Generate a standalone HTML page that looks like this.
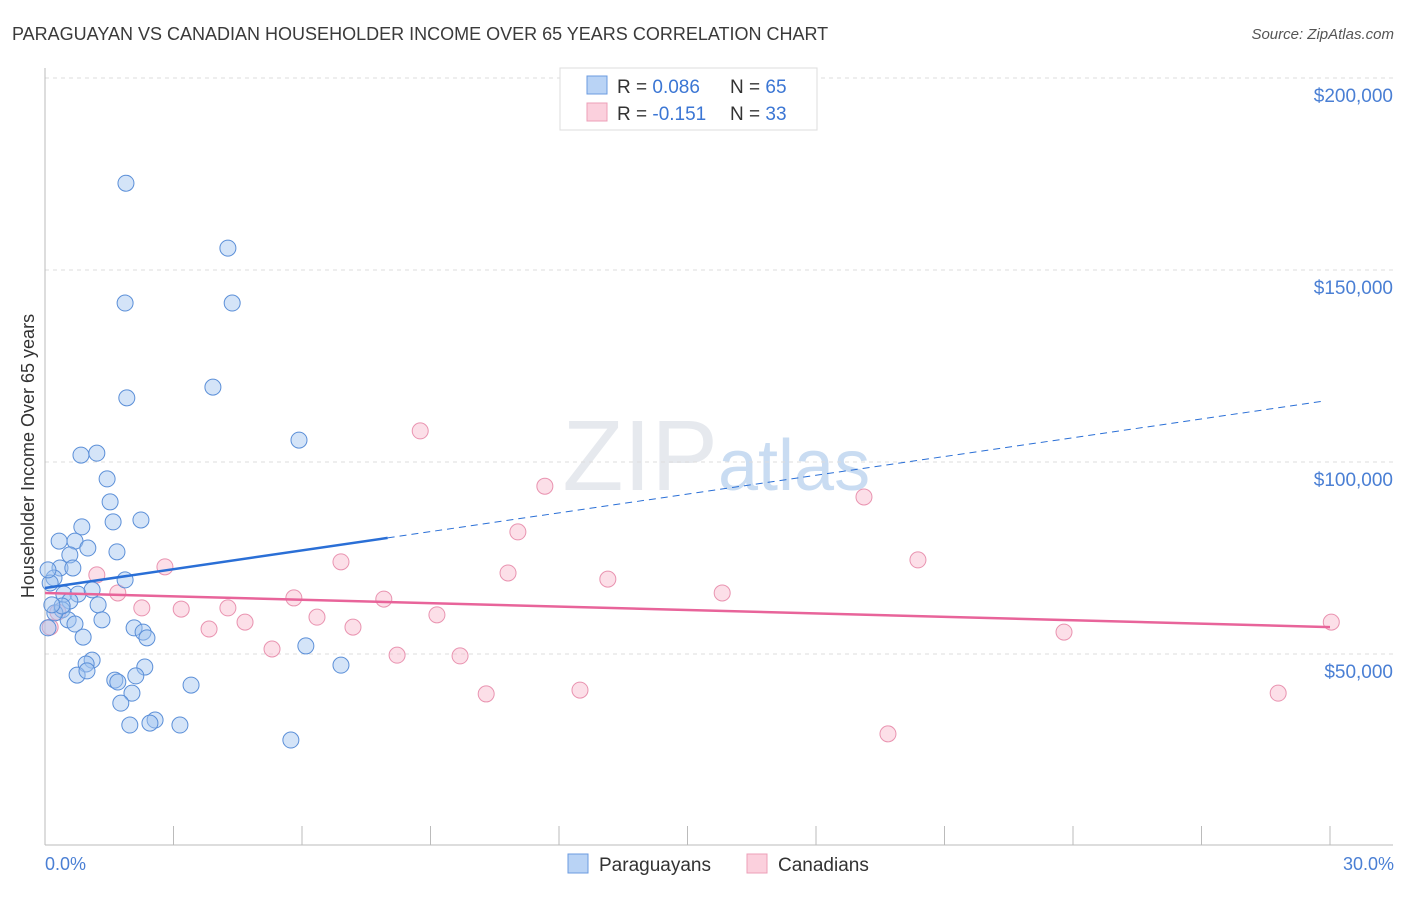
<!DOCTYPE html>
<html><head><meta charset="utf-8"><style>
body{margin:0;background:#fff;font-family:"Liberation Sans",sans-serif}
svg text{font-family:"Liberation Sans",sans-serif}
</style></head><body>
<svg id="chart" width="1406" height="892">
<text x="12" y="40" font-size="18" fill="#3a3a3a">PARAGUAYAN VS CANADIAN HOUSEHOLDER INCOME OVER 65 YEARS CORRELATION CHART</text>
<text x="1394" y="39" font-size="15" fill="#555" font-style="italic" text-anchor="end">Source: ZipAtlas.com</text>
<text x="718" y="490" font-size="100" fill="#e6e9ee" text-anchor="end" font-family="Liberation Serif">ZIP</text>
<text x="718" y="490" font-size="72" fill="#c9dcf2">atlas</text>
<g id="grid"></g>
<g id="axes"></g>
<g id="marks"></g>
<text transform="translate(34,456) rotate(-90)" font-size="18" fill="#333" text-anchor="middle">Householder Income Over 65 years</text>
<text x="45" y="870" font-size="18" fill="#4a7fd4">0.0%</text>
<text x="1394" y="870" font-size="18" fill="#4a7fd4" text-anchor="end">30.0%</text>
<g>
<rect x="560" y="68" width="257" height="62" fill="#fff" stroke="#ddd"/>
<rect x="587" y="76" width="20" height="18" fill="#b9d3f5" stroke="#6b9be0"/>
<rect x="587" y="103" width="20" height="18" fill="#fbd0dd" stroke="#ec9fb8"/>
<text x="617" y="93" font-size="19" fill="#333">R = <tspan fill="#3b76d4">0.086</tspan></text>
<text x="730" y="93" font-size="19" fill="#333">N = <tspan fill="#3b76d4">65</tspan></text>
<text x="617" y="120" font-size="19" fill="#333">R = <tspan fill="#3b76d4">-0.151</tspan></text>
<text x="730" y="120" font-size="19" fill="#333">N = <tspan fill="#3b76d4">33</tspan></text>
</g>
<g>
<rect x="568" y="854" width="20" height="19" fill="#b9d3f5" stroke="#6b9be0"/>
<text x="599" y="871" font-size="19" fill="#333">Paraguayans</text>
<rect x="747" y="854" width="20" height="19" fill="#fbd0dd" stroke="#ec9fb8"/>
<text x="778" y="871" font-size="19" fill="#333">Canadians</text>
</g>
</svg>
<script>
const yTicks=[50000,100000,150000,200000];
const yTickLabels=["$50,000","$100,000","$150,000","$200,000"];
const xTicks=[0,3,6,9,12,15,18,21,24,27,30];
const blueX=[1.89,4.27,1.87,4.37,3.92,1.91,5.93,0.84,1.21,1.45,1.52,1.59,2.24,0.86,0.33,0.70,1.00,1.68,0.58,1.87,0.35,0.65,0.21,0.12,0.44,0.77,1.10,0.58,1.24,0.40,0.54,1.33,0.70,0.07,0.89,2.08,2.29,2.38,6.09,1.10,0.96,6.91,2.33,0.75,0.98,1.63,1.70,2.12,3.41,2.03,1.77,1.98,2.57,2.45,3.15,5.74,0.23,0.40,0.07,0.16];
const blueY=[172.6,155.7,141.4,141.4,119.5,116.7,105.7,101.8,102.3,95.6,89.6,84.4,84.9,83.1,79.4,79.4,77.6,76.6,75.8,69.3,72.4,72.4,69.8,68.5,65.6,65.6,66.7,63.8,62.8,61.5,58.9,58.9,57.8,56.8,54.4,56.8,55.7,54.2,52.1,48.4,47.4,47.1,46.6,44.5,45.6,43.2,42.7,44.3,41.9,39.8,37.2,31.5,32.8,32.0,31.5,27.6,60.7,62.5,71.9,62.8];
const pinkX=[8.76,11.67,11.04,19.12,20.38,2.80,1.21,1.70,6.91,10.81,13.14,15.81,2.26,3.18,4.27,5.81,7.91,6.35,9.15,7.19,3.83,4.67,5.30,8.22,9.69,10.30,12.49,19.68,23.79,30.03,28.79,0.12,0.30];
const pinkY=[108.1,93.7,81.8,90.9,74.5,72.7,70.6,65.9,74.0,71.1,69.5,65.9,62.0,61.7,62.0,64.6,64.3,59.6,60.2,57.0,56.5,58.3,51.3,49.7,49.5,39.6,40.6,29.2,55.7,58.3,39.8,57.0,60.9];
const blueTrend=[67.2,116.1];
const pinkTrend=[65.9,57.0];
const blueSolidEnd=8;
const NS="http://www.w3.org/2000/svg";
function sx(p){return 45+p*(1330-45)/30;}
function sy(v){return 846-v/50000*192;}
function mk(t,a,parent){const e=document.createElementNS(NS,t);for(const k in a)e.setAttribute(k,a[k]);parent.appendChild(e);return e;}
const grid=document.getElementById('grid'),axes=document.getElementById('axes'),marks=document.getElementById('marks');
yTicks.forEach((v,i)=>{
 const l=mk('line',{x1:45,x2:1393,y1:sy(v),y2:sy(v),stroke:'#ddd','stroke-dasharray':'4,4'},grid);
 
 
 const t=mk('text',{x:1393,y:sy(v)+24,'font-size':19,fill:'#4a7fd4','text-anchor':'end'},grid);
 t.textContent=yTickLabels[i];
 
 
});
const ax=mk('line',{x1:45,x2:1393,y1:845,y2:845,stroke:'#bbb'},axes);


const ay=mk('line',{x1:45,x2:45,y1:68,y2:845,stroke:'#bbb'},axes);


xTicks.forEach(p=>{
 const t=mk('line',{x1:sx(p),x2:sx(p),y1:826,y2:845,stroke:'#bbb'},axes);
 
 
});
pinkX.forEach((x,i)=>{
 const c=mk('circle',{cx:sx(x),cy:sy(pinkY[i]*1000),r:8,fill:'rgba(248,184,204,0.45)',stroke:'#e993b0','stroke-width':1},marks);
 
 
});
blueX.forEach((x,i)=>{
 const c=mk('circle',{cx:sx(x),cy:sy(blueY[i]*1000),r:8,fill:'rgba(160,196,240,0.45)',stroke:'#5b8fd8','stroke-width':1},marks);
 
 
});
function trendAt(tr,p){return (tr[0]+(tr[1]-tr[0])*p/30)*1000;}
const bs=mk('line',{x1:sx(0),y1:sy(trendAt(blueTrend,0)),x2:sx(blueSolidEnd),y2:sy(trendAt(blueTrend,blueSolidEnd)),stroke:'#2a6fd6','stroke-width':2.5},marks);


const bd=mk('line',{x1:sx(blueSolidEnd),y1:sy(trendAt(blueTrend,blueSolidEnd)),x2:sx(29.9),y2:sy(trendAt(blueTrend,29.9)),stroke:'#2a6fd6','stroke-width':1,'stroke-dasharray':'7,5'},marks);


const pt=mk('line',{x1:sx(0),y1:sy(trendAt(pinkTrend,0)),x2:sx(30),y2:sy(trendAt(pinkTrend,30)),stroke:'#e8649a','stroke-width':2.5},marks);


</script>
</body></html>
